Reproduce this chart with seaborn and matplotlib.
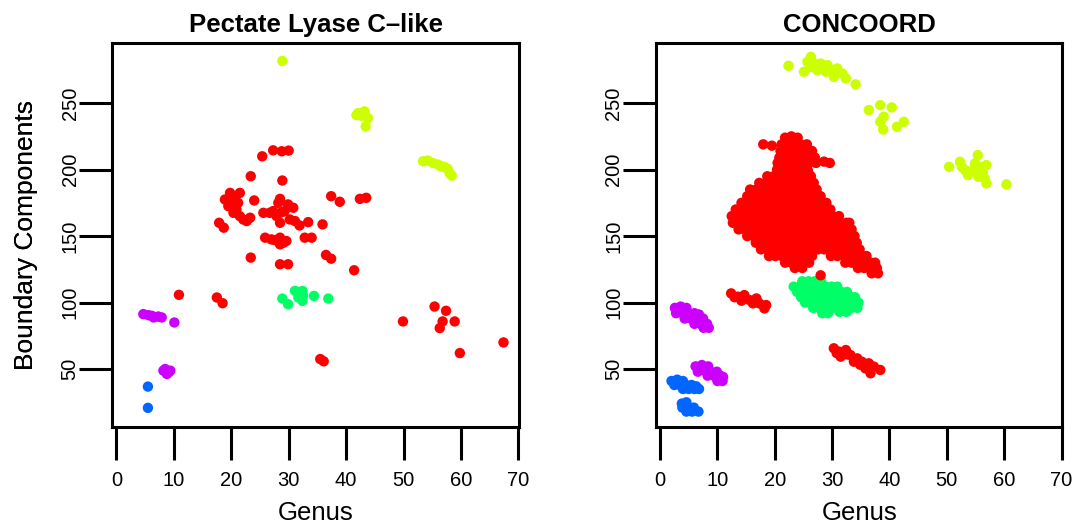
import matplotlib
matplotlib.use("Agg")
import matplotlib.pyplot as plt
import seaborn as sns
import pandas as pd

# ---------------- data ----------------
panel_titles = ["Pectate Lyase C\u2013like", "CONCOORD"]
x_label = "Genus"
y_label = "Boundary Components"
x_ticks = [0, 10, 20, 30, 40, 50, 60, 70]
y_ticks = [50, 100, 150, 200, 250]
cluster_names = ["yellow", "green", "red", "purple", "blue"]
cluster_colors = ["#CCFF00", "#00FF66", "#FF0000", "#CC00FF", "#0066FF"]

# Pectate Lyase C-like panel
pl_yellow = [(28.9, 281.7), (41.8, 241.0), (42.1, 242.5), (43.2, 243.8), (42.7, 240.5),
             (43.8, 238.8), (43.4, 232.5), (53.4, 206.3), (54.2, 206.8), (55.1, 205.0),
             (56.0, 203.8), (56.5, 202.5), (57.1, 202.0), (57.7, 200.5), (58.0, 197.5),
             (58.4, 195.5)]
pl_green = [(28.9, 103.0), (29.9, 98.8), (31.1, 108.8), (32.4, 108.8), (32.4, 101.3),
            (34.4, 105.0), (36.9, 103.0), (31.7, 103.8), (32.5, 105.0)]
pl_red = [(10.9, 105.8), (17.5, 103.8), (18.5, 99.5), (25.4, 210.0), (27.3, 214.5),
          (28.8, 213.8), (30.0, 214.3), (23.4, 195.0), (28.9, 191.8), (37.4, 180.0),
          (38.9, 175.8), (42.4, 178.0), (43.5, 178.8), (24.0, 176.8),
          (19.8, 182.5), (21.5, 182.5), (18.9, 177.5), (20.4, 178.8), (20.1, 173.8),
          (20.9, 170.0), (21.5, 165.0), (22.1, 162.5), (23.3, 163.8), (19.5, 172.5),
          (22.7, 161.3), (21.2, 175.0), (20.4, 167.5), (17.9, 160.0), (18.7, 156.3),
          (28.5, 178.0), (28.2, 175.0), (29.9, 173.8), (30.8, 171.3), (29.3, 168.8),
          (25.6, 167.5), (26.7, 167.5), (27.9, 165.0), (28.8, 168.0), (27.3, 168.8),
          (30.2, 162.5), (31.1, 161.3), (31.9, 158.0), (28.5, 160.0), (33.4, 160.5),
          (35.9, 158.8), (25.9, 148.8), (27.0, 147.5), (28.5, 148.8), (29.1, 145.0),
          (29.6, 146.3), (28.5, 143.8), (27.6, 147.0), (32.8, 148.8), (34.0, 148.8),
          (23.4, 133.8), (28.5, 128.8), (29.9, 128.8), (36.5, 135.8), (37.4, 133.0),
          (41.4, 124.3), (35.5, 57.5), (36.1, 55.8), (49.9, 85.8), (55.4, 97.0),
          (57.4, 93.8), (56.8, 85.8), (56.3, 80.8), (58.9, 85.8), (59.8, 62.0),
          (67.4, 70.0)]
pl_purple = [(4.7, 91.3), (5.6, 90.5), (6.2, 90.0), (6.5, 88.8), (7.3, 89.5), (7.9, 88.8),
             (10.1, 85.0), (8.5, 50.0), (9.4, 48.8), (8.8, 46.3), (9.1, 47.5), (8.2, 48.8)]
pl_blue = [(5.5, 36.8), (5.5, 20.8)]

# CONCOORD panel
cc_yellow = [(22.4, 278.1), (26.3, 284.8), (25.7, 281.1), (25.1, 273.6), (26.9, 279.8),
             (28.0, 279.8), (29.2, 278.6), (30.1, 274.8), (30.9, 276.1), (31.8, 272.3),
             (32.4, 268.6), (34.1, 264.1), (27.4, 274.8), (28.9, 273.6), (30.3, 269.8),
             (26.3, 277.3),
             (36.4, 244.8), (38.4, 248.5), (40.4, 246.8), (39.0, 239.8), (38.4, 236.0),
             (38.9, 230.2), (41.3, 232.2), (42.5, 236.0),
             (50.4, 202.1), (52.3, 205.9), (52.6, 202.1), (53.7, 195.9), (55.4, 210.9),
             (54.9, 204.6), (55.8, 202.1), (56.9, 203.4), (56.3, 197.1), (56.9, 189.6),
             (60.4, 188.9), (54.6, 199.6), (56.6, 193.4), (53.2, 199.6), (55.5, 194.6)]
cc_green = [(24.8, 116), (25.9, 116), (27.0, 116), (28.1, 116),
            (23.3, 112), (24.4, 112), (25.5, 112), (26.6, 112), (27.7, 112), (28.8, 112),
            (29.9, 112), (30.9, 112),
            (23.9, 108), (25.0, 108), (26.1, 108), (27.2, 108), (28.3, 108), (29.4, 108),
            (30.5, 108), (31.6, 108), (32.6, 108),
            (24.6, 104), (25.7, 104), (26.8, 104), (27.9, 104), (29.0, 104), (30.1, 104),
            (31.2, 104), (32.3, 104), (33.4, 104), (34.0, 104),
            (25.3, 100), (26.4, 100), (27.5, 100), (28.6, 100), (29.7, 100), (30.8, 100),
            (31.9, 100), (33.0, 100), (34.1, 100), (34.6, 100),
            (26.7, 96), (27.8, 96), (28.9, 96), (30.0, 96), (31.1, 96), (32.2, 96),
            (33.3, 96), (34.4, 96),
            (28.3, 92), (29.3, 92), (31.3, 93), (32.5, 93)]
cc_red = [(21.8, 224), (22.9, 225), (24.0, 224),
          (18.0, 219), (19.5, 218), (21.2, 219), (22.3, 219), (23.4, 219), (24.5, 219), (25.6, 219),
          (21.0, 214), (22.1, 214), (23.2, 214), (24.3, 214), (25.4, 214), (26.5, 214),
          (20.8, 209), (21.9, 209), (23.0, 209), (24.1, 209), (25.2, 209), (26.3, 209), (27.0, 209),
          (20.5, 205), (21.6, 205), (22.7, 205), (23.8, 205), (24.9, 205), (26.0, 205),
          (27.2, 205), (28.6, 206), (29.6, 205),
          (20.4, 200), (21.5, 200), (22.6, 200), (23.7, 200), (24.8, 200), (25.8, 199),
          (18.7, 195), (19.8, 195), (20.9, 195), (22.0, 195), (23.1, 195), (24.2, 195),
          (25.3, 195), (26.3, 195),
          (17.3, 190), (18.4, 190), (19.5, 190), (20.6, 190), (21.7, 190), (22.8, 190),
          (23.9, 190), (25.0, 190), (26.1, 190), (26.8, 190),
          (15.7, 185), (16.8, 185), (17.9, 185), (19.0, 185), (20.1, 185), (21.2, 185),
          (22.3, 185), (23.4, 185), (24.5, 185), (25.6, 185), (26.7, 185), (27.3, 185),
          (15.2, 180), (16.3, 180), (17.4, 180), (18.5, 180), (19.6, 180), (20.7, 180),
          (21.8, 180), (22.9, 180), (24.0, 180), (25.1, 180), (26.2, 180), (27.3, 180),
          (28.0, 180),
          (14.2, 175), (15.3, 175), (16.4, 175), (17.5, 175), (18.6, 175), (19.7, 175),
          (20.8, 175), (21.9, 175), (23.0, 175), (24.1, 175), (25.2, 175), (26.3, 175),
          (27.4, 175), (28.5, 175), (29.0, 175),
          (13.2, 170), (14.3, 170), (15.4, 170), (16.5, 170), (17.6, 170), (18.7, 170),
          (19.8, 170), (20.9, 170), (22.0, 170), (23.1, 170), (24.2, 170), (25.3, 170),
          (26.4, 170), (27.5, 170), (28.6, 170), (29.7, 170),
          (12.5, 165), (13.6, 165), (14.7, 165), (15.8, 165), (16.9, 165), (18.0, 165),
          (19.1, 165), (20.2, 165), (21.3, 165), (22.4, 165), (23.5, 165), (24.6, 165),
          (25.7, 165), (26.8, 165), (27.9, 165), (29.0, 165), (30.1, 165), (31.2, 165),
          (12.7, 160), (13.8, 160), (14.9, 160), (16.0, 160), (17.1, 160), (18.2, 160),
          (19.3, 160), (20.4, 160), (21.5, 160), (22.6, 160), (23.7, 160), (24.8, 160),
          (25.9, 160), (27.0, 160), (28.1, 160), (29.2, 160), (30.3, 160), (31.4, 160),
          (32.5, 160), (33.0, 160),
          (13.7, 155), (14.8, 155), (15.9, 155), (17.0, 155), (18.1, 155), (19.2, 155),
          (20.3, 155), (21.4, 155), (22.5, 155), (23.6, 155), (24.7, 155), (25.8, 155),
          (26.9, 155), (28.0, 155), (29.1, 155), (30.2, 155), (31.3, 155), (32.4, 155),
          (33.4, 155),
          (15.2, 150), (16.3, 150), (17.4, 150), (18.5, 150), (19.6, 150), (20.7, 150),
          (21.8, 150), (22.9, 150), (24.0, 150), (25.1, 150), (26.2, 150), (27.3, 150),
          (28.4, 150), (29.5, 150), (30.6, 150), (31.7, 150), (32.8, 150), (33.9, 150),
          (16.7, 145), (17.8, 145), (18.9, 145), (20.0, 145), (21.1, 145), (22.2, 145),
          (23.3, 145), (24.4, 145), (25.5, 145), (26.6, 145), (27.7, 145), (28.8, 145),
          (29.9, 145), (31.0, 145), (32.1, 145), (33.2, 145), (34.3, 145),
          (17.6, 140), (18.7, 140), (19.8, 140), (20.9, 140), (22.0, 140), (23.1, 140),
          (24.2, 140), (25.3, 140), (26.4, 140), (27.5, 140), (28.6, 140), (29.7, 140),
          (30.8, 140), (31.9, 140), (33.0, 140), (34.1, 140), (34.8, 140),
          (19.0, 135), (20.1, 135), (21.2, 135), (22.3, 135), (23.4, 135), (24.5, 135),
          (25.6, 135), (26.5, 135), (29.8, 135), (30.9, 135), (32.0, 135), (33.1, 135),
          (34.2, 135), (35.3, 135), (36.0, 135),
          (21.8, 130), (22.9, 130), (24.0, 130), (25.1, 130), (26.0, 130), (32.3, 130),
          (33.4, 130), (34.5, 130), (35.6, 130), (36.7, 130), (37.5, 130),
          (23.5, 126), (24.8, 126), (34.5, 126), (35.6, 126), (36.7, 126), (37.8, 126),
          (36.9, 122), (38.0, 122), (28.0, 120.5),
          (12.4, 106.9), (13.0, 104.0), (13.6, 104.4), (14.7, 105.6), (15.6, 101.9),
          (16.8, 103.1), (17.3, 99.4), (18.2, 95.6), (18.5, 98.1), (14.2, 101.4),
          (16.2, 99.4),
          (30.3, 65.6), (31.2, 63.1), (32.4, 64.3), (33.2, 60.5), (34.4, 58.0),
          (35.2, 55.5), (36.4, 54.3), (36.7, 46.8), (38.4, 49.3), (37.3, 51.8),
          (31.5, 59.3), (33.8, 55.5), (35.8, 50.5), (32.6, 61.0), (30.8, 62.0),
          (34.9, 53.2)]
cc_purple = [(2.6, 96), (3.6, 97), (4.6, 96),
             (2.8, 92), (3.9, 92), (5.0, 92), (6.0, 92), (6.8, 91),
             (4.3, 88), (5.4, 88), (6.5, 88), (7.5, 88),
             (6.0, 84), (7.1, 84), (8.2, 84), (7.6, 81), (8.5, 81),
             (6.2, 52), (7.3, 53), (8.4, 52),
             (6.6, 48), (7.7, 49), (8.8, 48), (9.9, 48),
             (8.3, 45), (9.4, 45), (10.5, 45), (11.0, 44),
             (10.0, 41), (10.9, 41)]
cc_blue = [(2.0, 41), (3.0, 42), (4.0, 41),
           (2.5, 38), (3.5, 38), (4.5, 38), (5.5, 38), (6.3, 37),
           (4.0, 35), (5.0, 35), (6.0, 35), (6.8, 35),
           (3.8, 24), (4.6, 25), (3.9, 21), (4.9, 21), (5.9, 21),
           (4.6, 18), (5.6, 18), (6.7, 18)]

panels = [
    {"yellow": pl_yellow, "green": pl_green, "red": pl_red, "purple": pl_purple, "blue": pl_blue},
    {"yellow": cc_yellow, "green": cc_green, "red": cc_red, "purple": cc_purple, "blue": cc_blue},
]

# ---------------- style ----------------
sns.set_style("white")
plt.rcParams["font.family"] = ["Liberation Sans", "DejaVu Sans"]
plt.rcParams["text.color"] = "black"
plt.rcParams["axes.labelcolor"] = "black"

W, H = 1076, 526
fig = plt.figure(figsize=(W / 100, H / 100), dpi=100)
box_top, box_bottom = 43.3, 427.0
axes_px = [(112.3, 519.3), (656.0, 1062.4)]
palette = dict(zip(cluster_names, cluster_colors))

for i, (panel, title) in enumerate(zip(panels, panel_titles)):
    l, r = axes_px[i]
    ax = fig.add_axes([l / W, 1 - box_bottom / H, (r - l) / W, (box_bottom - box_top) / H])
    rows = []
    for name in cluster_names:
        for (xv, yv) in panel[name]:
            rows.append({"Genus": xv, "Boundary": yv, "cluster": name})
    df = pd.DataFrame(rows)
    sns.scatterplot(data=df, x="Genus", y="Boundary", hue="cluster", hue_order=cluster_names,
                    palette=palette, s=56, linewidth=0, alpha=1, legend=False, ax=ax)
    ax.set_xlim(-0.7, 70.15)
    ax.set_ylim(6.4, 295)
    ax.set_xticks(x_ticks)
    ax.set_yticks(y_ticks)
    ax.set_xticklabels([str(t) for t in x_ticks])
    ax.set_yticklabels([str(t) for t in y_ticks], rotation=90, va="center")
    ax.tick_params(axis="both", which="major", bottom=True, left=True, top=False, right=False,
                   direction="out", length=23.5, width=2.2, color="black",
                   labelsize=14.5, labelcolor="black")
    ax.tick_params(axis="x", pad=8.4)
    ax.tick_params(axis="y", pad=0)
    for sp in ax.spines.values():
        sp.set_visible(True)
        sp.set_linewidth(2.2)
        sp.set_color("black")
    ax.set_xlabel(x_label, fontsize=18.5, va="center", color="black")
    ax.xaxis.set_label_coords(0.5, -(513.5 - box_bottom) / (box_bottom - box_top))
    ax.set_ylabel(y_label, fontsize=19, va="center", color="black")
    ax.yaxis.set_label_coords((26 - l) / (r - l), 0.5)
    ax.set_title(title, fontsize=18.5, fontweight="bold", pad=8, color="black")
    ax.grid(False)

fig.savefig("out.png", dpi=100, facecolor="white")
